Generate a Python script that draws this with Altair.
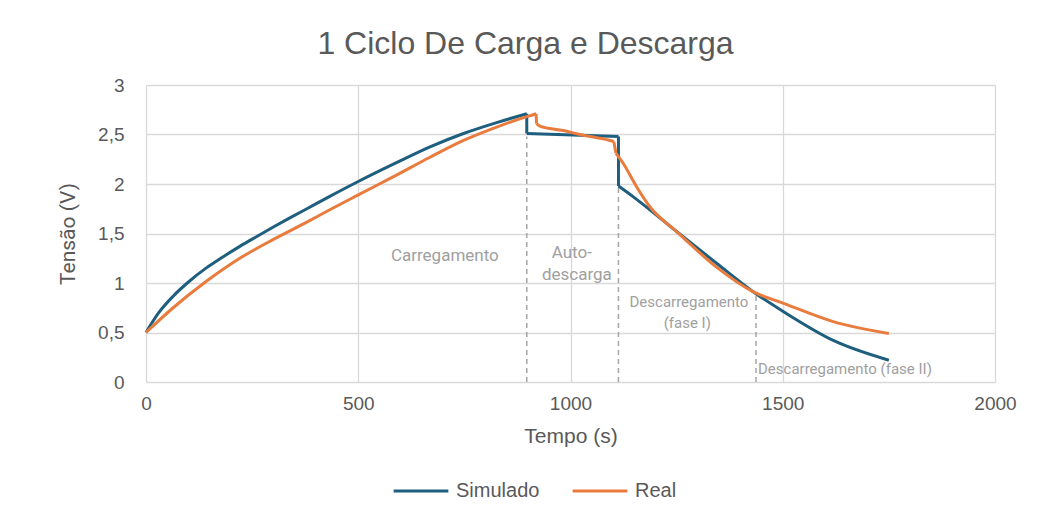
import altair as alt
import pandas as pd

# ---- data ----
sim_t = [0, 30, 64, 100, 143, 180, 221, 260, 300, 340, 379, 433, 500, 590, 669, 748, 826, 897,
         897, 897,
         897, 1113,
         1113, 1113,
         1113, 1148, 1187, 1250, 1344, 1431, 1502, 1619, 1750]
sim_v = [0.5, 0.7, 0.867, 1.01, 1.155, 1.26, 1.37, 1.467, 1.565, 1.66, 1.75, 1.875, 2.025, 2.215, 2.375, 2.51, 2.62, 2.71,
         2.71, 2.51,
         2.51, 2.48,
         2.48, 1.98,
         1.98, 1.87, 1.74, 1.52, 1.2, 0.91, 0.71, 0.42, 0.22]
sim_seg = [1] * 18 + [2] * 2 + [3] * 2 + [4] * 2 + [5] * 9

real_t = [0, 64, 143, 221, 300, 379, 433, 500, 590, 669, 748, 826, 897, 912, 919,
          919, 920,
          920, 928, 983, 1022, 1093, 1102,
          1102, 1107,
          1107, 1124, 1156, 1187, 1250, 1344, 1431, 1502, 1619, 1750]
real_v = [0.5, 0.75, 1.02, 1.25, 1.44, 1.615, 1.74, 1.89, 2.09, 2.27, 2.44, 2.575, 2.68, 2.70, 2.71,
          2.71, 2.61,
          2.61, 2.585, 2.54, 2.50, 2.44, 2.43,
          2.43, 2.31,
          2.31, 2.21, 1.97, 1.77, 1.52, 1.16, 0.91, 0.795, 0.61, 0.49]
real_seg = [1] * 15 + [2] * 2 + [3] * 6 + [4] * 2 + [5] * 10

phase_t = [897, 1113, 1437]
phase_top = [2.48, 1.96, 0.9]

ann_text = ["Carregamento", "Auto-", "descarga"]
ann_t = [704, 1003, 1015]
ann_v = [1.27, 1.30, 1.08]

ann_small_text = ["Descarregamento", "(fase I)"]
ann_small_t = [1279, 1275]
ann_small_v = [0.81, 0.60]

ann2_text = ["Descarregamento  (fase II)"]
ann2_t = [1437]
ann2_v = [0.13]

series = ["Simulado", "Real"]
colors = ["#1e5e7e", "#e97b3c"]

sim = pd.DataFrame({"t": sim_t, "v": sim_v, "i": range(len(sim_t)), "seg": sim_seg, "s": series[0]})
real = pd.DataFrame({"t": real_t, "v": real_v, "i": range(len(real_t)), "seg": real_seg, "s": series[1]})
phases = pd.DataFrame({"t": phase_t, "top": phase_top, "zero": [0] * len(phase_t)})
ann = pd.DataFrame({"label": ann_text, "t": ann_t, "v": ann_v})
ann_small = pd.DataFrame({"label": ann_small_text, "t": ann_small_t, "v": ann_small_v})
ann2 = pd.DataFrame({"label": ann2_text, "t": ann2_t, "v": ann2_v})

FONT = "Liberation Sans, Arial, sans-serif"
NARROW = "Liberation Sans Narrow, Arial Narrow, Roboto, sans-serif"
GREY = "#595959"
ANN = "#a0a0a0"

xscale = alt.Scale(domain=[0, 2000], nice=False, zero=True)
yscale = alt.Scale(domain=[0, 3], nice=False)

xax = alt.Axis(values=[0, 500, 1000, 1500, 2000], format="d", labelFlush=False, title="Tempo (s)", grid=True,
               domain=False, ticks=False, labelPadding=12, labelFontSize=19, titleFontSize=21, titlePadding=12)
yax = alt.Axis(values=[0, 0.5, 1, 1.5, 2, 2.5, 3], title="Tensão (V)", grid=True, domain=False, ticks=False,
               labelPadding=22, labelFontSize=19, labelFlush=False,
               labelExpr="replace(format(datum.value, '~g'), '.', ',')",
               titleFont=NARROW, titleFontSize=21, titleX=-68, titleBaseline="bottom")

color = alt.Color("s:N", scale=alt.Scale(domain=series, range=colors),
                  legend=alt.Legend(title=None, orient="none", legendX=246, legendY=377, direction="horizontal",
                                    symbolType="stroke", symbolSize=3000, symbolStrokeWidth=3,
                                    labelFontSize=20, labelFont=FONT, labelColor=GREY, columnPadding=26,
                                    labelOffset=6))

rules = alt.Chart(phases).mark_rule(color="#a6a6a6", strokeDash=[5, 4], strokeWidth=1.5).encode(
    x=alt.X("t:Q", scale=xscale, axis=xax), y=alt.Y("zero:Q", scale=yscale, axis=yax), y2="top:Q")

sim_line = alt.Chart(sim).mark_line(strokeWidth=3, interpolate="monotone").encode(
    x=alt.X("t:Q", scale=xscale), y=alt.Y("v:Q", scale=yscale), order="i:Q", detail="seg:N", color=color)
real_line = alt.Chart(real).mark_line(strokeWidth=3, interpolate="monotone").encode(
    x=alt.X("t:Q", scale=xscale), y=alt.Y("v:Q", scale=yscale), order="i:Q", detail="seg:N", color=color)

labels = alt.Chart(ann).mark_text(font=NARROW, fontSize=17, color=ANN, align="center", baseline="middle").encode(
    x="t:Q", y="v:Q", text="label:N")
labels_small = alt.Chart(ann_small).mark_text(font=NARROW, fontSize=15, color=ANN, align="center",
                                              baseline="middle").encode(x="t:Q", y="v:Q", text="label:N")
labels2 = alt.Chart(ann2).mark_text(font=NARROW, fontSize=15, color=ANN, align="left", baseline="middle", dx=2).encode(
    x="t:Q", y="v:Q", text="label:N")

chart = alt.layer(rules, sim_line, real_line, labels, labels_small, labels2).properties(
    width=849, height=297,
    autosize=alt.AutoSizeParams(type="none"),
    padding={"left": 138, "top": 77, "right": 41, "bottom": 122},
    title=alt.TitleParams(text="1 Ciclo De Carga e Descarga", font=FONT, fontSize=32, fontWeight="normal",
                          color=GREY, anchor="middle", dx=-45, offset=15),
    background="white",
).configure_axis(
    gridColor="#d9d9d9", gridWidth=1.3, labelColor=GREY, titleColor=GREY, labelFont=FONT, titleFont=FONT,
    titleFontWeight="normal"
).configure_view(stroke=None)

chart.save("out.html", embed_options={"renderer": "svg", "actions": False})
